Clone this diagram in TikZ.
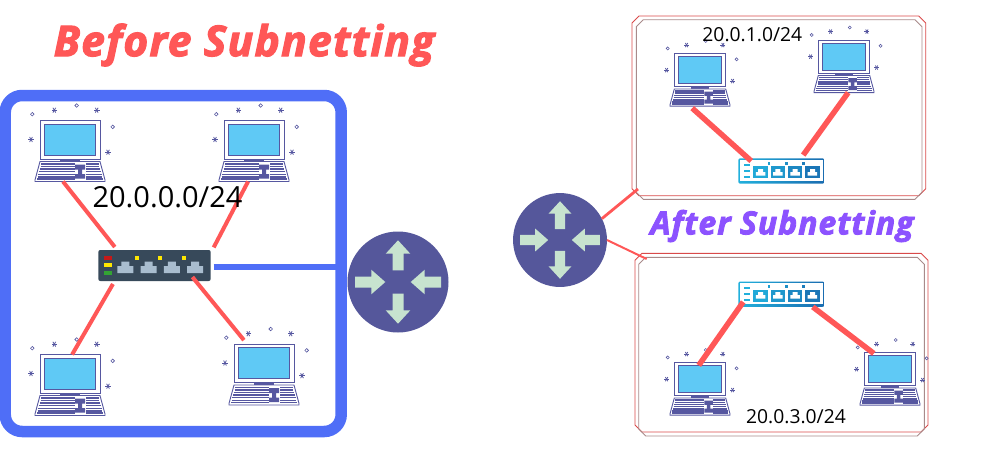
\documentclass[tikz,border=0pt]{standalone}
\usepackage{xcolor}
\usepackage{fontspec}
\usetikzlibrary{positioning}
\setmainfont{Open Sans}
\newfontfamily\headfont[LetterSpace=3,FakeBold=2.6]{Open Sans}

\definecolor{wirered}{HTML}{FF5757}
\definecolor{lanblue}{HTML}{4F6EF7}
\definecolor{inkpurple}{HTML}{5657A0}
\definecolor{screenblue}{HTML}{5FC9F5}
\definecolor{routerblue}{HTML}{55579B}
\definecolor{arrowgreen}{HTML}{C7E3CF}
\definecolor{hubdark}{HTML}{37495A}
\definecolor{portgray}{HTML}{A9BDCF}
\definecolor{hubleft}{HTML}{22B0DC}
\definecolor{hubright}{HTML}{1A6CB0}
\definecolor{boxbrown}{HTML}{A88A8A}
\definecolor{headpurple}{HTML}{8C52FF}

% Cut-corner frame: colour, left, top, right, bottom
\newcommand{\chamferframe}[5]{
	\draw [#1, line width = .9pt] (#2+7,#3) -- (#4-7,#3) -- (#4,#3+7) -- (#4,#5-7) -- (#4-7,#5) -- (#2+7,#5) -- (#2,#5-7) -- (#2,#3+7) -- cycle;
}

\tikzset{
	wire/.style = {color = wirered, line cap = butt},
	label/.style = {font = \fontsize{19.3}{22}\selectfont, inner sep = 0pt},
	laptop/.pic = {
		% Outline of the laptop, the links end on this node
		\node (-box) [transform shape, minimum width = 70pt, minimum height = 61pt, inner sep = 0pt, outer sep = 0pt] at (0,0) {};
		\draw [inkpurple, fill = white, line width = .9pt] (-30,-30.5) rectangle (30,8);
		\draw [inkpurple, fill = screenblue, line width = .8pt] (-25.5,-27) rectangle (25.5,4);
		\fill [inkpurple] (-10,8.5) rectangle (10,10.5);
		\draw [inkpurple, fill = white, line width = .9pt] (-30,10.5) -- (30,10.5) -- (35,29) -- (35,30.5) -- (-35,30.5) -- (-35,29) -- cycle;
		\foreach \y in {12.8, 15.4, 18, 20.6, 23.2, 25.8, 28}
			\draw [inkpurple, line width = 1.4pt] ({-28-(\y-10)*.27},\y) -- ({28+(\y-10)*.27},\y);
		\fill [white] (4.5,11.8) rectangle (15.5,28.8);
		\fill [inkpurple] (5,13.5) rectangle (15,18.5) (8,18.5) rectangle (12,23) (5,23) rectangle (15,27.5);
		% Sparkles around the screen
		\foreach \x/\y in {-37.7/-36.8, 6.7/-45.5, 42.7/-24.1}
			\draw [inkpurple, line width = .6pt] (\x,\y) circle (1.8);
		\foreach \x/\y in {-15.7/-40.8, 26.7/-40.8, -39/-11.5, 38/1.2}
			\foreach \a in {0, 60, 120}
				\draw [inkpurple, line width = .8pt] (\x,\y) ++(\a:2.8) -- ++(\a+180:5.6);
	},
	router/.pic = {
		\node (-disc) [circle, transform shape, fill = routerblue, minimum size = 101pt, inner sep = 0pt, outer sep = 0pt] at (0,0) {};
		\foreach \r in {0, 180} {
			\fill [arrowgreen, rotate = \r] (0,-41.7) -- (12.3,-28.3) -- (5.5,-28.3) -- (5.5,-11.7) -- (-5.5,-11.7) -- (-5.5,-28.3) -- (-12.3,-28.3) -- cycle;
			\fill [arrowgreen, rotate = \r] (-12.7,0) -- (-26.7,12.3) -- (-26.7,5.5) -- (-43,5.5) -- (-43,-5.5) -- (-26.7,-5.5) -- (-26.7,-12.3) -- cycle;
		}
	},
	darkhub/.pic = {
		\node (-box) [fill = hubdark, rounded corners = 2pt, minimum width = 112.4pt, minimum height = 31pt, inner sep = 0pt, outer sep = 3pt] at (0,0) {};
		\fill [red!75!black!90] (-50.5,-9.5) rectangle (-42.5,-5.5);
		\fill [yellow!90!orange] (-50.5,-2.3) rectangle (-42.5,1.7);
		\fill [green!55!black!80] (-50.5,5.7) rectangle (-42.5,9.7);
		\foreach \i in {0, 1, 2, 3} {
			\fill [portgray] ({-37.2+23.3*\i},7.5) -- ({-37.2+23.3*\i},0.5) -- ({-33.2+23.3*\i},0.5) -- ({-33.2+23.3*\i},-3.8) -- ({-25.2+23.3*\i},-3.8) -- ({-25.2+23.3*\i},0.5) -- ({-21.2+23.3*\i},0.5) -- ({-21.2+23.3*\i},7.5) -- cycle;
		}
		\foreach \i in {0, 1, 2}
			\fill [yellow!90!orange] ({-19.5+23.3*\i},-9.8) rectangle ({-15.5+23.3*\i},-5.8);
	},
	bluehub/.pic = {
		\node (-box) [left color = hubleft, right color = hubright, rounded corners = 2pt, minimum width = 86pt, minimum height = 25.4pt, inner sep = 0pt, outer sep = 0pt] at (0,0) {};
		\fill [white] (-41.5,-11) rectangle (41.5,10);
		\foreach \y in {-6, 0, 6}
			\fill [hubleft] (-37,\y-1) rectangle (-31,\y+1);
		\foreach \i/\m in {0/90, 1/65, 2/40, 3/15} {
			\fill [hubleft!\m!hubright] ({-28+17.3*\i},-4.7) rectangle ({-13.5+17.3*\i},7.3);
			\fill [white] ({-25.5+17.3*\i},4.5) -- ({-25.5+17.3*\i},1) -- ({-23.2+17.3*\i},1) -- ({-23.2+17.3*\i},-2) -- ({-18.2+17.3*\i},-2) -- ({-18.2+17.3*\i},1) -- ({-16+17.3*\i},1) -- ({-16+17.3*\i},4.5) -- cycle;
		}
		\foreach \i/\m in {0/75, 1/50, 2/25}
			\fill [hubleft!\m!hubright] ({-13.5+17.3*\i},-9) rectangle ({-11+17.3*\i},-6.5);
	}
}

\begin{document}
\begin{tikzpicture} [x = 1pt, y = -1pt]
	\useasboundingbox (0,0) rectangle (1000,455);

	% Titles
	\node (before) [wirered, font = \headfont\fontsize{42.5}{48}\selectfont\bfseries\itshape, inner sep = 0pt] at (244,45) {Before Subnetting};
	\node (after) [headpurple, font = \headfont\fontsize{32}{36}\selectfont\bfseries\itshape, inner sep = 0pt] at (782,226) {After Subnetting};

	% Left network
	\node (lanbox) [draw = lanblue, line width = 11.5pt, rounded corners = 17pt, minimum width = 336pt, minimum height = 336pt, inner sep = 0pt, outer sep = 0pt] at (173.2,263.5) {};
	\pic (pc1) at (70,151) {laptop};
	\pic (pc2) at (254,151) {laptop};
	\pic (pc3) at (70,385) {laptop};
	\pic (pc4) at (264,374.5) {laptop};
	\pic (sw1) at (154.5,265.5) {darkhub};
	\pic (r1) at (398,282) {router};

	% Right networks
	\chamferframe{wirered!85!black}{632}{16}{925.7}{195.7}
	\chamferframe{boxbrown}{636.3}{19.7}{922}{199.3}
	\chamferframe{wirered!85!black}{635}{253.3}{928}{432}
	\chamferframe{boxbrown}{638.7}{257.3}{924.3}{436}
	\pic (pcA) [scale = .857] at (700,80) {laptop};
	\pic (pcB) [scale = .857] at (844,66.5) {laptop};
	\pic (pcC) [scale = .857] at (700,389) {laptop};
	\pic (pcD) [scale = .857] at (890,379) {laptop};
	\pic (swA) at (781.3,171) {bluehub};
	\pic (swC) at (781.3,294.2) {bluehub};
	\pic (r2) [scale = .93] at (560,240) {router};

	% Free ends of the router links
	\coordinate (portA) at (638,189);
	\coordinate (portC) at (646.7,259);

	% Draw Arrows/Connections
	\path [wire, line width = 4pt]
		(pc1-box.-103) edge (sw1-box.155)
		(pc2-box.-101) edge (sw1-box.17.6)
		(pc3-box.86) edge (sw1-box.-156)
		(pc4-box.119) edge [shorten <= 5pt, shorten >= -9pt] (sw1-box.-23);
	\path [wire, line width = 5.5pt]
		(pcA-box.-111) edge [shorten <= 3pt, shorten >= -4pt] (swA-box.159)
		(pcB-box.-81) edge [shorten >= 4pt] (swA-box.33)
		(pcC-box.89) edge [shorten <= -3pt, shorten >= -6pt] (swC-box.197)
		(pcD-box.123) edge [shorten <= -1pt] (swC-box.-22);
	\path [wire, line width = 2.8pt] (r2-disc.27) edge (portA);
	\path [wire, line width = 2pt] (r2-disc.0) edge (portC);
	\draw [lanblue, line width = 6pt] ([yshift = -1pt]sw1-box.east) -- ([yshift = -1pt]sw1-box.east -| lanbox.east);

	% Network labels
	\node (netleft) [label, font = \fontsize{29}{34}\selectfont] at (167.5,197) {20.0.0.0/24};
	\node (neta) [label] at (752.3,35) {20.0.1.0/24};
	\node (netc) [label] at (796,417) {20.0.3.0/24};
\end{tikzpicture}
\end{document}
